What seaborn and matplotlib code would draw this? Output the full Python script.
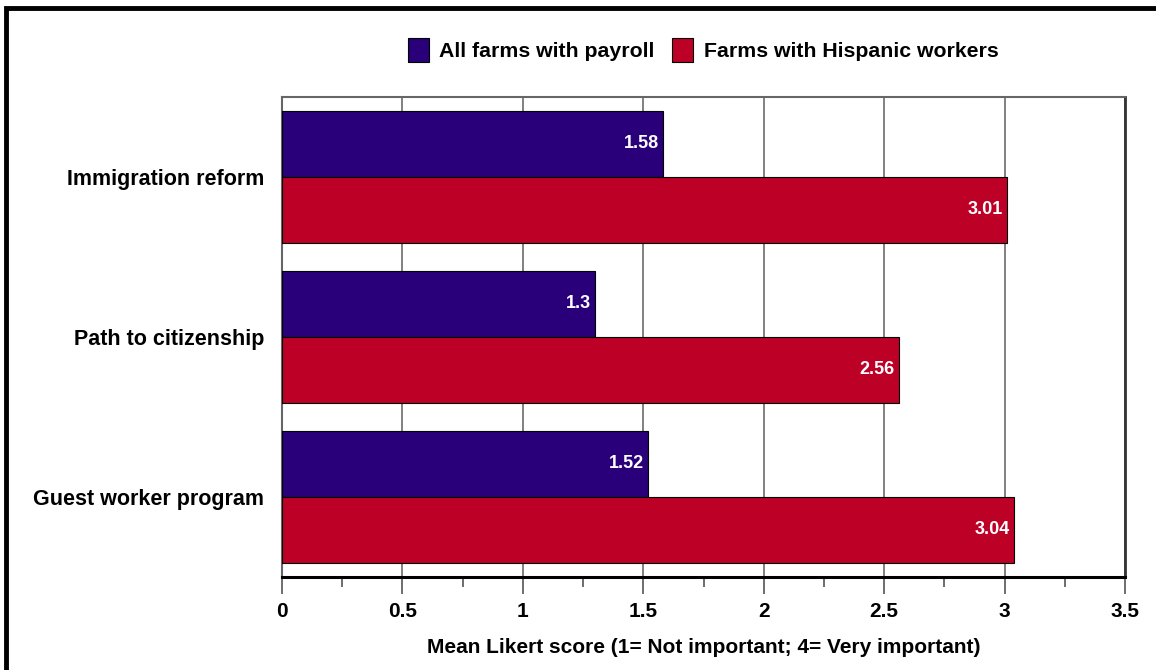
import pandas as pd
import numpy as np
import matplotlib.pyplot as plt
from matplotlib.patches import Rectangle
import seaborn as sns

# Data
categories = ['Immigration reform', 'Path to citizenship', 'Guest worker program']
all_farms = [1.58, 1.30, 1.52]
hispanic_farms = [3.01, 2.56, 3.04]
series_names = ['All farms with payroll', 'Farms with Hispanic workers']
value_labels_all = ['1.58', '1.3', '1.52']
value_labels_hisp = ['3.01', '2.56', '3.04']
x_ticks = [0, 0.5, 1, 1.5, 2, 2.5, 3, 3.5]
x_tick_labels = ['0', '0.5', '1', '1.5', '2', '2.5', '3', '3.5']

df = pd.DataFrame({
    'category': categories * 2,
    'score': all_farms + hispanic_farms,
    'series': [series_names[0]] * 3 + [series_names[1]] * 3,
})

sns.set_style('white')
plt.rcParams['font.family'] = ['Liberation Sans', 'DejaVu Sans']
plt.rcParams['font.weight'] = 'bold'
plt.rcParams['text.color'] = 'black'
plt.rcParams['axes.labelcolor'] = 'black'
plt.rcParams['xtick.color'] = 'black'
plt.rcParams['ytick.color'] = 'black'

purple = '#29007a'
red = '#bd0026'

fig = plt.figure(figsize=(11.56, 6.70), dpi=100)
ax = fig.add_axes([282 / 1156, 1 - 577 / 670, (1125 - 282) / 1156, (577 - 97) / 670])

sns.barplot(data=df, y='category', x='score', hue='series', order=categories,
            hue_order=series_names, palette=[purple, red], orient='h', saturation=1,
            width=0.825, edgecolor='black', linewidth=0.8, ax=ax, legend=False,
            zorder=3)

ax.set_xlim(0, 3.5)
ax.set_ylim(2.5, -0.5)
ax.set_xticks(x_ticks)
ax.set_xticklabels(x_tick_labels, fontsize=15, fontweight='bold')
ax.set_xticks([t + 0.25 for t in x_ticks[:-1]], minor=True)
ax.tick_params(axis='x', which='major', length=12, width=1.2, color='#555555', direction='out', pad=6, bottom=True)
ax.tick_params(axis='x', which='minor', length=7, width=1.2, color='#555555', direction='out', bottom=True)
ax.tick_params(axis='y', length=0, pad=13, labelsize=15.5)
for lbl in ax.get_yticklabels():
    lbl.set_fontweight('bold')
ax.grid(axis='x', which='major', color='#808080', linewidth=1.4, zorder=0)
ax.set_axisbelow(True)
ax.set_ylabel('')
ax.set_xlabel('Mean Likert score (1= Not important; 4= Very important)', fontsize=15,
              fontweight='bold', labelpad=12)

for side in ['top', 'left']:
    ax.spines[side].set_color('#666666')
    ax.spines[side].set_linewidth(1.5)
ax.spines['right'].set_color('#333333')
ax.spines['right'].set_linewidth(2)
ax.spines['bottom'].set_color('black')
ax.spines['bottom'].set_linewidth(2.2)

# value labels inside bar ends
for cont, labels in zip(ax.containers, [value_labels_all, value_labels_hisp]):
    for bar, txt in zip(cont, labels):
        ax.text(bar.get_width() - 0.016, bar.get_y() + bar.get_height() / 2, txt,
                ha='right', va='center', color='white', fontsize=13,
                fontweight='bold', zorder=5)

# legend
handles = [Rectangle((0, 0), 1, 1, facecolor=c, edgecolor='black', linewidth=0.8) for c in [purple, red]]
fig.legend(handles, series_names, loc='center', bbox_to_anchor=(703 / 1156, 1 - 50 / 670),
           ncol=2, frameon=False, prop={'weight': 'bold', 'size': 15.3},
           handlelength=1.0, handleheight=1.3, handletextpad=0.5, columnspacing=0.8)

# outer frame (cut off right and bottom in the reference)
fig.add_artist(Rectangle((6 / 1156, -0.1), 1.2, 1 - 8 / 670 + 0.1, transform=fig.transFigure,
                         fill=False, edgecolor='black', linewidth=3.5))

fig.savefig('out.png', dpi=100)
